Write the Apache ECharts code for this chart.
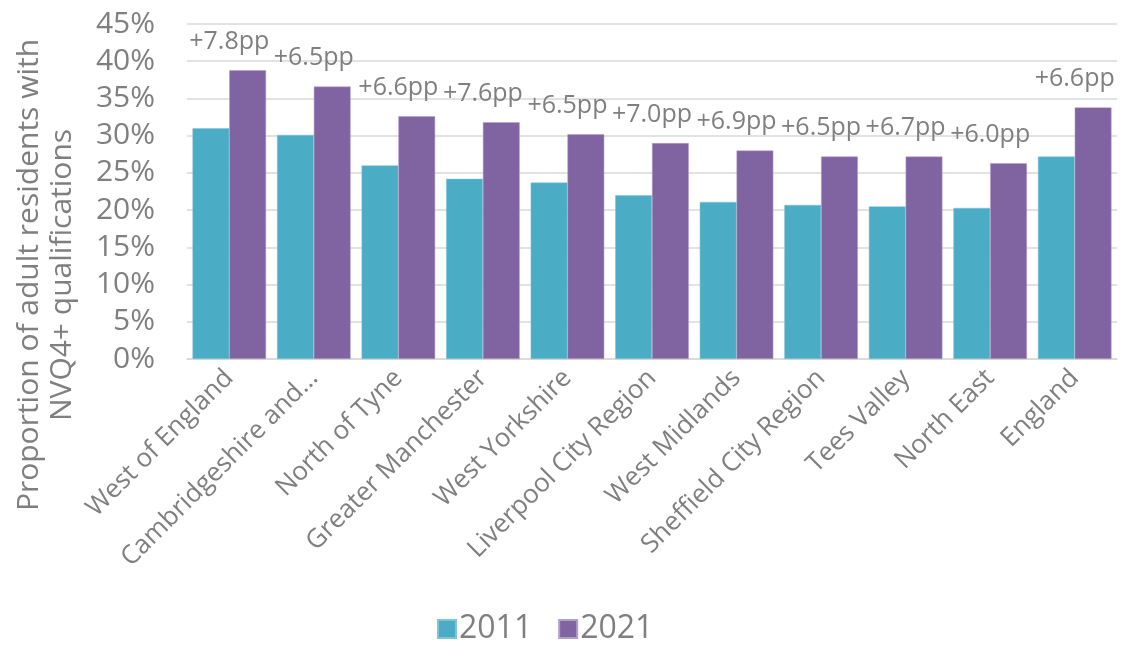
<!DOCTYPE html>
<html>
<head>
<meta charset="utf-8">
<script src="https://cdn.jsdelivr.net/npm/echarts@6/dist/echarts.min.js"></script>
<style>html,body{margin:0;padding:0;background:#fff}#c{width:1127px;height:649px}</style>
</head>
<body>
<div id="c"></div>
<script>
const categories = ["West of England", "Cambridgeshire and Peterborough", "North of Tyne", "Greater Manchester", "West Yorkshire", "Liverpool City Region", "West Midlands", "Sheffield City Region", "Tees Valley", "North East", "England"];
const values2011 = [31.0, 30.1, 26.0, 24.2, 23.7, 22.0, 21.1, 20.7, 20.5, 20.3, 27.2];
const values2021 = [38.8, 36.6, 32.6, 31.8, 30.2, 29.0, 28.0, 27.2, 27.2, 26.3, 33.8];
const changeLabels = ["+7.8pp", "+6.5pp", "+6.6pp", "+7.6pp", "+6.5pp", "+7.0pp", "+6.9pp", "+6.5pp", "+6.7pp", "+6.0pp", "+6.6pp"];
const seriesNames = ["2011", "2021"];
const yTitle = "Proportion of adult residents with\nNVQ4+ qualifications";

const textColor = '#7f7f7f';
const font = '"Open Sans"';
const chart = echarts.init(document.getElementById('c'));
chart.setOption({
  animation: false,
  textStyle: { fontFamily: font, color: textColor },
  grid: { left: 187, right: 10, top: 24, bottom: 290, containLabel: false },
  legend: {
    data: seriesNames,
    left: 432, top: 608,
    itemWidth: 18, itemHeight: 18, itemGap: 26,
    icon: 'rect',
    textStyle: { fontSize: 32, color: textColor, fontFamily: font, padding: [0, 0, 0, -2] }
  },
  xAxis: {
    type: 'category',
    data: categories,
    axisLine: { show: true, lineStyle: { color: '#d9d9d9', width: 1.5 } },
    axisTick: { show: false },
    axisLabel: {
      rotate: 45, fontSize: 26, color: textColor, fontFamily: font, margin: 15, interval: 0,
      formatter: v => v.length > 22 ? v.slice(0, 18) + '…' : v
    }
  },
  yAxis: {
    type: 'value', min: 0, max: 45, interval: 5,
    axisLine: { show: false }, axisTick: { show: false },
    splitLine: { lineStyle: { color: '#d9d9d9', width: 1.5 } },
    axisLabel: { formatter: '{value}%', fontSize: 30, color: textColor, fontFamily: font, margin: 32 }
  },
  graphic: [{
    type: 'text',
    x: 46, y: 275,
    rotation: Math.PI / 2,
    style: {
      text: yTitle, fontSize: 30, fontFamily: font, fill: textColor,
      align: 'center', verticalAlign: 'middle', lineHeight: 33
    }
  }],
  series: [
    {
      name: seriesNames[0], type: 'bar', data: values2011,
      barGap: '0%', barCategoryGap: '13%',
      itemStyle: { color: '#4bacc6', borderColor: '#7fc4d8', borderWidth: 0.5 }
    },
    {
      name: seriesNames[1], type: 'bar', data: values2021,
      barGap: '0%', barCategoryGap: '13%',
      itemStyle: { color: '#8064a2', borderColor: '#b0a0c8', borderWidth: 0.5 },
      label: {
        show: true, position: 'top', distance: 16, offset: [-18.4, 0],
        fontSize: 25, color: textColor, fontFamily: font,
        formatter: p => changeLabels[p.dataIndex]
      }
    }
  ]
});
</script>
</body>
</html>
